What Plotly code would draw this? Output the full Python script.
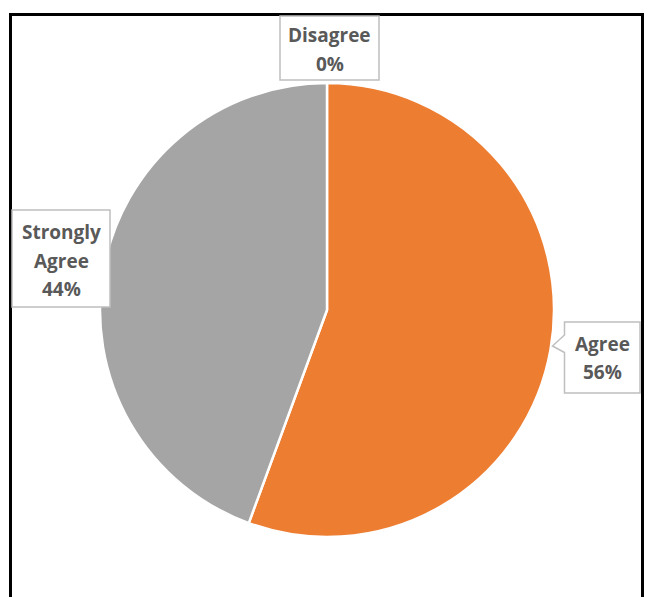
import plotly.graph_objects as go

W, H = 654, 597

categories = ["Disagree", "Agree", "Strongly Agree"]
values = [0, 55.6, 44.4]
colors = ["#4472C4", "#ED7D31", "#A5A5A5"]
label_lines = {
    "Disagree": ["Disagree", "0%"],
    "Agree": ["Agree", "56%"],
    "Strongly Agree": ["Strongly", "Agree", "44%"],
}

def px(x):
    return x / W

def py(y):
    return (H - y) / H

cx, cy, r = 327, 310, 227

fig = go.Figure(go.Pie(
    labels=categories,
    values=values,
    sort=False,
    direction="clockwise",
    rotation=0,
    marker=dict(colors=colors, line=dict(color="white", width=2.5)),
    textinfo="none",
    hoverinfo="label+percent",
    showlegend=False,
    domain=dict(x=[px(cx - r), px(cx + r)], y=[py(cy + r), py(cy - r)]),
))

shapes = []
# outer chart frame (bottom edge is outside the viewport)
shapes.append(dict(type="path", xref="paper", yref="paper",
                   path=f"M {px(10.5)} {py(650)} L {px(10.5)} {py(14.5)} L {px(642.5)} {py(14.5)} L {px(642.5)} {py(650)}",
                   line=dict(color="black", width=3)))

def rect_path(x0, y0, x1, y1):
    return f"M {px(x0)} {py(y0)} L {px(x1)} {py(y0)} L {px(x1)} {py(y1)} L {px(x0)} {py(y1)} Z"

box_line = dict(color="#BFBFBF", width=1.5)
shapes.append(dict(type="path", xref="paper", yref="paper", path=rect_path(280, 16, 379, 80),
                   fillcolor="white", line=box_line))
shapes.append(dict(type="path", xref="paper", yref="paper", path=rect_path(12, 210, 110, 307),
                   fillcolor="white", line=box_line))
agree_path = (f"M {px(564.5)} {py(322)} L {px(640)} {py(322)} L {px(640)} {py(393)} L {px(564.5)} {py(393)} "
              f"L {px(564.5)} {py(352.5)} L {px(552.5)} {py(346)} L {px(564.5)} {py(335)} Z")
shapes.append(dict(type="path", xref="paper", yref="paper", path=agree_path,
                   fillcolor="white", line=box_line))

font = dict(family="Open Sans", size=19, color="#595959")
label_pos = {
    "Disagree": (329.5, 35),
    "Agree": (602.5, 343.5),
    "Strongly Agree": (61, 232),
}
spacing = 28.5
annotations = []
for cat in categories:
    x0, y0 = label_pos[cat]
    for i, line in enumerate(label_lines[cat]):
        annotations.append(dict(
            x=px(x0), y=py(y0 + i * spacing), text=f"<b>{line}</b>",
            xref="paper", yref="paper", xanchor="center", yanchor="middle",
            showarrow=False, font=font))

fig.update_layout(
    width=W, height=H,
    margin=dict(l=0, r=0, t=0, b=0),
    paper_bgcolor="white",
    plot_bgcolor="white",
    shapes=shapes,
    annotations=annotations,
)

fig.write_html("out.html", config={"displayModeBar": False},
               post_script="document.body.style.margin='0';document.body.style.overflow='hidden';")
